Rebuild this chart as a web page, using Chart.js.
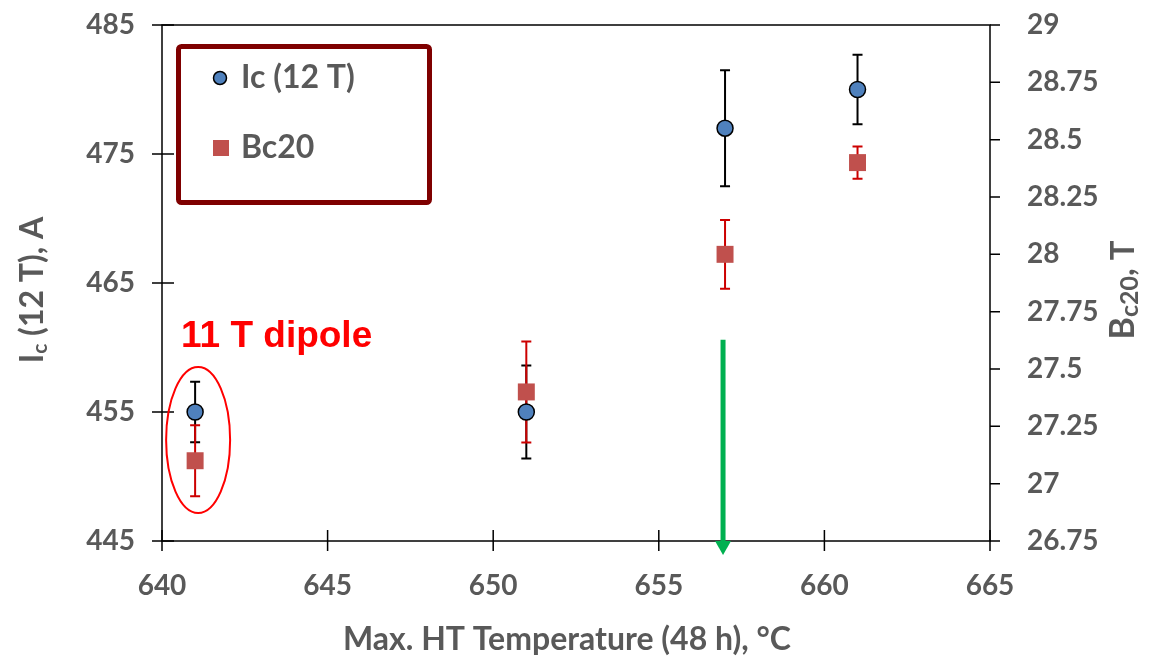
<!DOCTYPE html>
<html>
<head>
<meta charset="utf-8">
<script src="https://cdn.jsdelivr.net/npm/chart.js@4/dist/chart.umd.min.js"></script>
<style>
  html, body { margin: 0; padding: 0; background: #fff; }
  #wrap { width: 1149px; height: 662px; }
</style>
</head>
<body>
<div id="wrap"><canvas id="htChart" width="1149" height="662"></canvas></div>
<script>
// data
const temps = [641, 651, 657, 661];
const icValues = [455, 455, 477, 480];
const icErrors = [2.35, 3.6, 4.5, 2.7];
const bc20Values = [27.1, 27.4, 28.0, 28.4];
const bc20Errors = [0.155, 0.22, 0.15, 0.07];
const xTicks = [640, 645, 650, 655, 660, 665];
const icTicks = [445, 455, 465, 475, 485];
const bcTicks = [26.75, 27, 27.25, 27.5, 27.75, 28, 28.25, 28.5, 28.75, 29];

const GRAY = "#595959";
const FONT = "Lato";

// error bars, drawn under the markers
const errorBars = {
  id: "errorBars",
  beforeDatasetsDraw(chart) {
    const ctx = chart.ctx;
    chart.data.datasets.forEach((ds, i) => {
      const meta = chart.getDatasetMeta(i);
      const scale = chart.scales[ds.yAxisID];
      ctx.save();
      ctx.strokeStyle = ds.errColor;
      ctx.lineWidth = 2;
      meta.data.forEach((pt, j) => {
        const v = ds.data[j].y, e = ds.errors[j];
        const yTop = scale.getPixelForValue(v + e);
        const yBot = scale.getPixelForValue(v - e);
        ctx.beginPath();
        ctx.moveTo(pt.x, yTop); ctx.lineTo(pt.x, yBot);
        ctx.moveTo(pt.x - 5, yTop); ctx.lineTo(pt.x + 5, yTop);
        ctx.moveTo(pt.x - 5, yBot); ctx.lineTo(pt.x + 5, yBot);
        ctx.stroke();
      });
      ctx.restore();
    });
  }
};

// text made of pieces (for subscripts), centred on cx, cy
function drawRich(ctx, parts, cx, cy, angle) {
  ctx.save();
  ctx.translate(cx, cy);
  ctx.rotate(angle);
  let total = 0;
  parts.forEach(p => {
    ctx.font = "bold " + p.size + "px " + FONT;
    total += ctx.measureText(p.text).width;
  });
  let x = -total / 2;
  ctx.textBaseline = "middle";
  ctx.textAlign = "left";
  parts.forEach(p => {
    ctx.font = "bold " + p.size + "px " + FONT;
    ctx.fillText(p.text, x, p.dy || 0);
    x += ctx.measureText(p.text).width;
  });
  ctx.restore();
}

const decorations = {
  id: "decorations",
  beforeDatasetsDraw(chart) {
    const { ctx, chartArea: a, scales } = chart;
    ctx.save();
    ctx.strokeStyle = "#000";
    ctx.lineWidth = 1.5;
    ctx.strokeRect(a.left, a.top, a.right - a.left, a.bottom - a.top);
    ctx.beginPath();
    icTicks.forEach(v => {
      const y = scales.y.getPixelForValue(v);
      ctx.moveTo(a.left - 10, y); ctx.lineTo(a.left + 12, y);
    });
    bcTicks.forEach(v => {
      const y = scales.y2.getPixelForValue(v);
      ctx.moveTo(a.right, y); ctx.lineTo(a.right + 10, y);
    });
    xTicks.forEach(v => {
      const x = scales.x.getPixelForValue(v);
      ctx.moveTo(x, a.bottom - 11); ctx.lineTo(x, a.bottom + 10);
    });
    ctx.stroke();
    ctx.restore();
  },
  afterDraw(chart) {
    const { ctx, chartArea: a, scales } = chart;
    ctx.save();
    ctx.fillStyle = GRAY;
    drawRich(ctx, [
      { text: "Max. HT Temperature (48 h), °C", size: 32 }
    ], 567, 640, 0);
    drawRich(ctx, [
      { text: "I", size: 32 },
      { text: "c", size: 21, dy: 7 },
      { text: " (12 T), A", size: 32 }
    ], 33, 290, -Math.PI / 2);
    drawRich(ctx, [
      { text: "B", size: 34 },
      { text: "c20", size: 25, dy: 7 },
      { text: ", T", size: 33 }
    ], 1123, 290, -Math.PI / 2);

    // legend box
    ctx.strokeStyle = "#7f0000";
    ctx.lineWidth = 5;
    ctx.beginPath();
    ctx.roundRect(178.5, 46.5, 251, 156, 3);
    ctx.stroke();
    const ds = chart.data.datasets;
    ctx.beginPath();
    ctx.arc(220, 78, 6.5, 0, Math.PI * 2);
    ctx.fillStyle = ds[0].backgroundColor;
    ctx.fill();
    ctx.lineWidth = 1.5;
    ctx.strokeStyle = "#000";
    ctx.stroke();
    ctx.fillStyle = ds[1].backgroundColor;
    ctx.fillRect(213, 140, 16, 16);
    ctx.fillStyle = GRAY;
    ctx.font = "bold 32px " + FONT;
    ctx.textBaseline = "middle";
    ctx.fillText(ds[0].label, 241, 78);
    ctx.fillText(ds[1].label, 241, 148);

    // "11 T dipole" note and ellipse
    const x0 = scales.x.getPixelForValue(temps[0]);
    ctx.fillStyle = "#ff0000";
    ctx.font = "bold 37px 'Liberation Sans'";
    ctx.textBaseline = "alphabetic";
    ctx.fillText("11 T dipole", 181, 347);
    ctx.strokeStyle = "#ff0000";
    ctx.lineWidth = 2;
    ctx.beginPath();
    ctx.ellipse(x0 + 3, 440, 32, 73, 0, 0, Math.PI * 2);
    ctx.stroke();

    // green arrow at 657 C
    const xa = scales.x.getPixelForValue(657) - 2;
    const yTop = scales.y.getPixelForValue(460.6);
    const yTip = a.bottom + 14;
    ctx.strokeStyle = "#00b050";
    ctx.fillStyle = "#00b050";
    ctx.lineWidth = 5;
    ctx.beginPath();
    ctx.moveTo(xa, yTop); ctx.lineTo(xa, yTip - 12);
    ctx.stroke();
    ctx.beginPath();
    ctx.moveTo(xa - 8, yTip - 14); ctx.lineTo(xa + 8, yTip - 14); ctx.lineTo(xa, yTip);
    ctx.closePath();
    ctx.fill();
    ctx.restore();
  }
};

const tickFont = { family: FONT, size: 28, weight: "bold" };
const noPad = s => { s.paddingTop = 0; s.paddingBottom = 0; s.paddingLeft = 0; s.paddingRight = 0; };

const ctx = document.getElementById("htChart");
new Chart(ctx, {
  type: "scatter",
  data: {
    datasets: [
      {
        label: "Ic (12 T)",
        data: temps.map((t, i) => ({ x: t, y: icValues[i] })),
        errors: icErrors,
        errColor: "#000",
        yAxisID: "y",
        pointStyle: "circle",
        pointRadius: 8,
        pointBorderWidth: 1.5,
        borderColor: "#000",
        backgroundColor: "#4f81bd",
      },
      {
        label: "Bc20",
        data: temps.map((t, i) => ({ x: t, y: bc20Values[i] })),
        errors: bc20Errors,
        errColor: "#cc0000",
        yAxisID: "y2",
        pointStyle: "rect",
        pointRadius: 12,
        pointBorderWidth: 0,
        borderColor: "#c0504d",
        backgroundColor: "#c0504d",
      },
    ],
  },
  options: {
    responsive: false,
    animation: false,
    layout: { padding: { top: 25, left: 0, right: 0, bottom: 0 } },
    plugins: { legend: { display: false }, tooltip: { enabled: false } },
    scales: {
      x: {
        type: "linear", min: 640, max: 665,
        afterBuildTicks: s => { s.ticks = xTicks.map(v => ({ value: v })); },
        afterFit: s => { s.height = 121; noPad(s); },
        grid: { display: false }, border: { display: false },
        ticks: { color: GRAY, padding: 20, font: tickFont },
      },
      y: {
        type: "linear", position: "left", min: 445, max: 485,
        afterBuildTicks: s => { s.ticks = icTicks.map(v => ({ value: v })); },
        afterFit: s => { s.width = 162; noPad(s); },
        grid: { display: false }, border: { display: false },
        ticks: { color: GRAY, padding: 19, font: tickFont },
      },
      y2: {
        type: "linear", position: "right", min: 26.75, max: 29,
        afterBuildTicks: s => { s.ticks = bcTicks.map(v => ({ value: v })); },
        afterFit: s => { s.width = 159; noPad(s); },
        grid: { display: false }, border: { display: false },
        ticks: {
          color: GRAY, padding: 29, font: tickFont,
          callback: v => String(parseFloat(v.toFixed(2))),
        },
      },
    },
  },
  plugins: [errorBars, decorations],
});
</script>
</body>
</html>
